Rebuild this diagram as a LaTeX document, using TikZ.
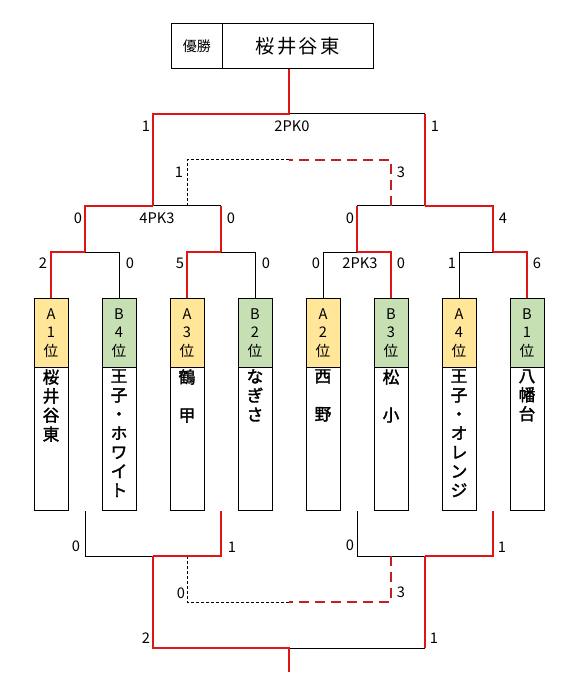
\documentclass[tikz,border=0pt]{standalone}
\usepackage{fontspec}
\setmainfont{Noto Sans CJK JP}[AutoFakeBold=2]
\definecolor{rankA}{RGB}{255,230,153}
\definecolor{rankB}{RGB}{198,224,180}
\definecolor{winred}{RGB}{222,22,22}
\definecolor{thirdred}{RGB}{192,32,32}
\tikzset{
  rankbox/.style={draw,line width=.75pt,minimum width=25.5pt,minimum height=51.75pt,
    inner sep=0pt,anchor=north,align=center,font=\fontsize{11}{13.9}\selectfont},
  teambox/.style={draw,line width=.75pt,minimum width=25.5pt,minimum height=107.25pt,
    inner sep=0pt,anchor=north},
  teamname/.style={anchor=north,inner sep=0pt,align=center,
    font=\fontsize{12.5}{14.3}\selectfont\bfseries},
  score/.style={font=\fontsize{11}{12}\selectfont,inner sep=0pt},
  lose/.style={line width=.75pt},
  win/.style={winred,line width=1.8pt},
  thirdlose/.style={line width=.75pt,dash pattern=on 2.25pt off 1.5pt},
  thirdwin/.style={thirdred,line width=1.7pt,dash pattern=on 7.5pt off 4.5pt},
}
\begin{document}
\begin{tikzpicture}[x=.75pt,y=-.75pt]
  \useasboundingbox (0,0) rectangle (579,695);
  % champion
  \node[draw,minimum width=38.25pt,minimum height=33.75pt,anchor=north west,inner sep=0pt,
    font=\fontsize{10.5}{12}\selectfont] (yushoL) at (171,23) {優勝};
  \node[draw,minimum width=113.25pt,minimum height=33.75pt,anchor=north west,inner sep=0pt,
    font=\fontsize{14.5}{16}\selectfont\addfontfeature{LetterSpace=12}] (yusho) at (222,23) {桜井谷東};
  % teams
  \node[rankbox,fill=rankA] (rk1) at (51,298) {A\\1\\位};
  \node[rankbox,fill=rankB] (rk2) at (119,298) {B\\4\\位};
  \node[rankbox,fill=rankA] (rk3) at (187,298) {A\\3\\位};
  \node[rankbox,fill=rankB] (rk4) at (255,298) {B\\2\\位};
  \node[rankbox,fill=rankA] (rk5) at (323,298) {A\\2\\位};
  \node[rankbox,fill=rankB] (rk6) at (391,298) {B\\3\\位};
  \node[rankbox,fill=rankA] (rk7) at (459,298) {A\\4\\位};
  \node[rankbox,fill=rankB] (rk8) at (527,298) {B\\1\\位};
  \node[teambox] (tm1) at (51,367) {};
  \node[teambox] (tm2) at (119,367) {};
  \node[teambox] (tm3) at (187,367) {};
  \node[teambox] (tm4) at (255,367) {};
  \node[teambox] (tm5) at (323,367) {};
  \node[teambox] (tm6) at (391,367) {};
  \node[teambox] (tm7) at (459,367) {};
  \node[teambox] (tm8) at (527,367) {};
  \node[teamname] (nm1) at (51,369) {桜\\井\\谷\\東};
  \node[teamname] (nm2) at (119,369) {王\\子\\・\\ホ\\ワ\\イ\\ト};
  \node[teamname] (nm3) at (187,369) {鶴\\\mbox{}\\甲};
  \node[teamname] (nm4) at (255,369) {な\\ぎ\\さ};
  \node[teamname] (nm5) at (323,369) {西\\\mbox{}\\野};
  \node[teamname] (nm6) at (391,369) {松\\\mbox{}\\小};
  \node[teamname] (nm7) at (459,369) {王\\子\\・\\オ\\レ\\ン\\ジ};
  \node[teamname] (nm8) at (527,369) {八\\幡\\台};
  % bracket points
  \coordinate (r1) at (85,252);
  \coordinate (r2) at (221,252);
  \coordinate (r3) at (357,252);
  \coordinate (r4) at (493,252);
  \coordinate (s1) at (153,206);
  \coordinate (s2) at (425,206);
  \coordinate (fin) at (289,114);
  \coordinate (th1) at (187,206);
  \coordinate (th2) at (391,206);
  \coordinate (thm) at (289,160);
  \coordinate (q1) at (153,556);
  \coordinate (q2) at (425,556);
  \coordinate (qf) at (289,648);
  \coordinate (qe) at (289,672);
  \coordinate (qh1) at (187,556);
  \coordinate (qh2) at (391,556);
  \coordinate (qhm) at (289,602);
  % upper bracket
  \draw[lose] (rk2.north) |- (r1);
  \draw[lose] (rk4.north) |- (r2);
  \draw[lose] (rk5.north) |- (r3);
  \draw[lose] (rk7.north) |- (r4);
  \draw[lose] (r2 |- s1) -- (s1);
  \draw[lose] (r3 |- s2) -- (s2);
  \draw[lose] (s2 |- fin) -- (fin);
  \draw[thirdlose] (th1) |- (thm);
  \draw[thirdwin] (th2) |- (thm);
  \draw[win] (rk1.north) |- (r1);
  \draw[win] (rk3.north) |- (r2);
  \draw[win] (rk6.north) |- (r3);
  \draw[win] (rk8.north) |- (r4);
  \draw[win] (r1) |- (s1);
  \draw[win] (r2) -- (r2 |- s1);
  \draw[win] (r4) |- (s2);
  \draw[win] (r3) -- (r3 |- s2);
  \draw[win] (s1) |- (fin) -- (fin |- yusho.south);
  \draw[win] (s2) -- (s2 |- fin);
  % lower bracket
  \draw[lose] (r1 |- tm1.south) |- (q1);
  \draw[lose] (r3 |- tm5.south) |- (q2);
  \draw[lose] (q2 |- qf) -- (qf);
  \draw[thirdlose] (qh1) |- (qhm);
  \draw[thirdwin] (qh2) |- (qhm);
  \draw[win] (r2 |- tm4.south) |- (q1);
  \draw[win] (r4 |- tm8.south) |- (q2);
  \draw[win] (q1) |- (qf) -- (qe);
  \draw[win] (q2) -- (q2 |- qf);
  % scores
  \node[score] (fL) at (146,126) {1};
  \node[score] (fPK) at (292,126) {2PK0};
  \node[score] (fR) at (435,126) {1};
  \node[score] (tL) at (179,172) {1};
  \node[score] (tR) at (401,172) {3};
  \node[score] (s1L) at (78,218) {0};
  \node[score] (s1PK) at (157,218) {4PK3};
  \node[score] (s1R) at (231,218) {0};
  \node[score] (s2L) at (350,218) {0};
  \node[score] (s2R) at (503,218) {4};
  \node[score] (m1L) at (43,263) {2};
  \node[score] (m1R) at (130,263) {0};
  \node[score] (m2L) at (180,263) {5};
  \node[score] (m2R) at (266,263) {0};
  \node[score] (m3L) at (316,263) {0};
  \node[score] (m3PK) at (360,263) {2PK3};
  \node[score] (m3R) at (401,263) {0};
  \node[score] (m4L) at (452,263) {1};
  \node[score] (m4R) at (537,263) {6};
  \node[score] (q1L) at (76,546) {0};
  \node[score] (q1R) at (232,547) {1};
  \node[score] (q2L) at (350,545) {0};
  \node[score] (q2R) at (502,547) {1};
  \node[score] (qhL) at (181,593) {0};
  \node[score] (qhR) at (401,592) {3};
  \node[score] (qfL) at (146,638) {2};
  \node[score] (qfR) at (434,638) {1};
\end{tikzpicture}
\end{document}
